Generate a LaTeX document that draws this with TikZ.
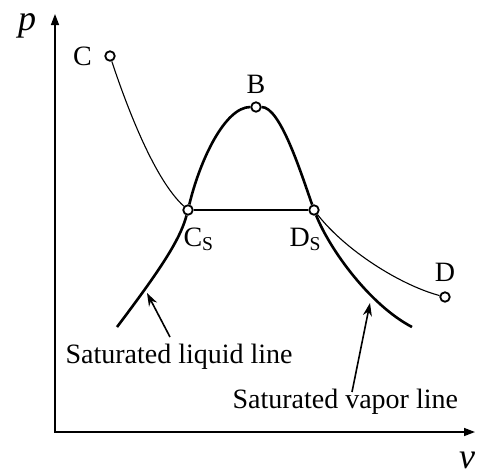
\documentclass[tikz,border=0pt]{standalone}
\usepackage{fontspec}
\setmainfont{Liberation Serif}
\usetikzlibrary{arrows.meta, positioning}
\tikzset{
  every picture/.style={line width=1pt},
  statept/.style={circle, draw, fill=white, line width=1.8pt, minimum size=9.5pt, inner sep=0pt},
  lbl/.style={font=\fontsize{28}{30}\selectfont, inner sep=0pt},
  axlbl/.style={font=\fontsize{36}{40}\selectfont\itshape, inner sep=0pt},
  axis/.style={{Triangle[length=11pt, width=8pt]}-{Triangle[length=11pt, width=8pt]}, line width=1.5pt},
  sat/.style={line width=2.6pt},
  iso/.style={line width=1.1pt},
  pointer/.style={-{Stealth[length=13pt, width=9pt]}, line width=1.6pt},
}

\begin{document}
\begin{tikzpicture}[x=1pt, y=-1pt]
  \useasboundingbox (0,0) rectangle (477,475);
  % axes
  \coordinate (pTop) at (55,14);
  \coordinate (vEnd) at (475,432);
  \draw[axis] (pTop) |- (vEnd);
  \node[axlbl] (pLab) at (27,26) {p};
  \node[axlbl] (vLab) at (467,460) {v};

  % state points
  \node[statept] (C) at (110,56) {};
  \node[statept] (B) at (256,107) {};
  \node[statept] (Cs) at (188,210) {};
  \node[statept] (Ds) at (314,210) {};
  \node[statept] (D) at (445,297) {};
  \node[lbl, left=12pt of C] (CLab) {C};
  \node[lbl, above=7pt of B] (BLab) {B};
  \node[lbl, above=9pt of D] (DLab) {D};
  \node[lbl, anchor=base west] (CsLab) at (183,246) {C\textsubscript{S}};
  \node[lbl, anchor=base west] (DsLab) at (289,246) {D\textsubscript{S}};

  % saturation dome
  \coordinate (liqEnd) at (117,327);
  \coordinate (vapEnd) at (412,327);
  \draw[sat] (Cs) .. controls (200,160) and (225,107) .. (B);
  \draw[sat] (B) .. controls (280,107) and (300,170) .. (Ds);
  \draw[sat] (Cs) .. controls (180,240) and (160,270) .. (liqEnd);
  \draw[sat] (Ds) .. controls (330,250) and (370,305) .. (vapEnd);

  % isotherm C - Cs - Ds - D
  \draw[iso] (C) .. controls (128,110) and (155,180) .. (Cs);
  \draw[iso] (Cs) -- (Ds);
  \draw[iso] (Ds) .. controls (345,250) and (400,285) .. (D);

  % captions
  \node[lbl, anchor=base west] (liqText) at (65,363) {Saturated liquid line};
  \node[lbl, anchor=base west] (vapText) at (232,408) {Saturated vapor line};
  \coordinate (liqHead) at (147,293);
  \coordinate (liqTail) at (170,337);
  \coordinate (vapHead) at (370,303);
  \coordinate (vapTail) at (352,392);
  \draw[pointer] (liqTail) -- (liqHead);
  \draw[pointer] (vapTail) -- (vapHead);
\end{tikzpicture}
\end{document}
